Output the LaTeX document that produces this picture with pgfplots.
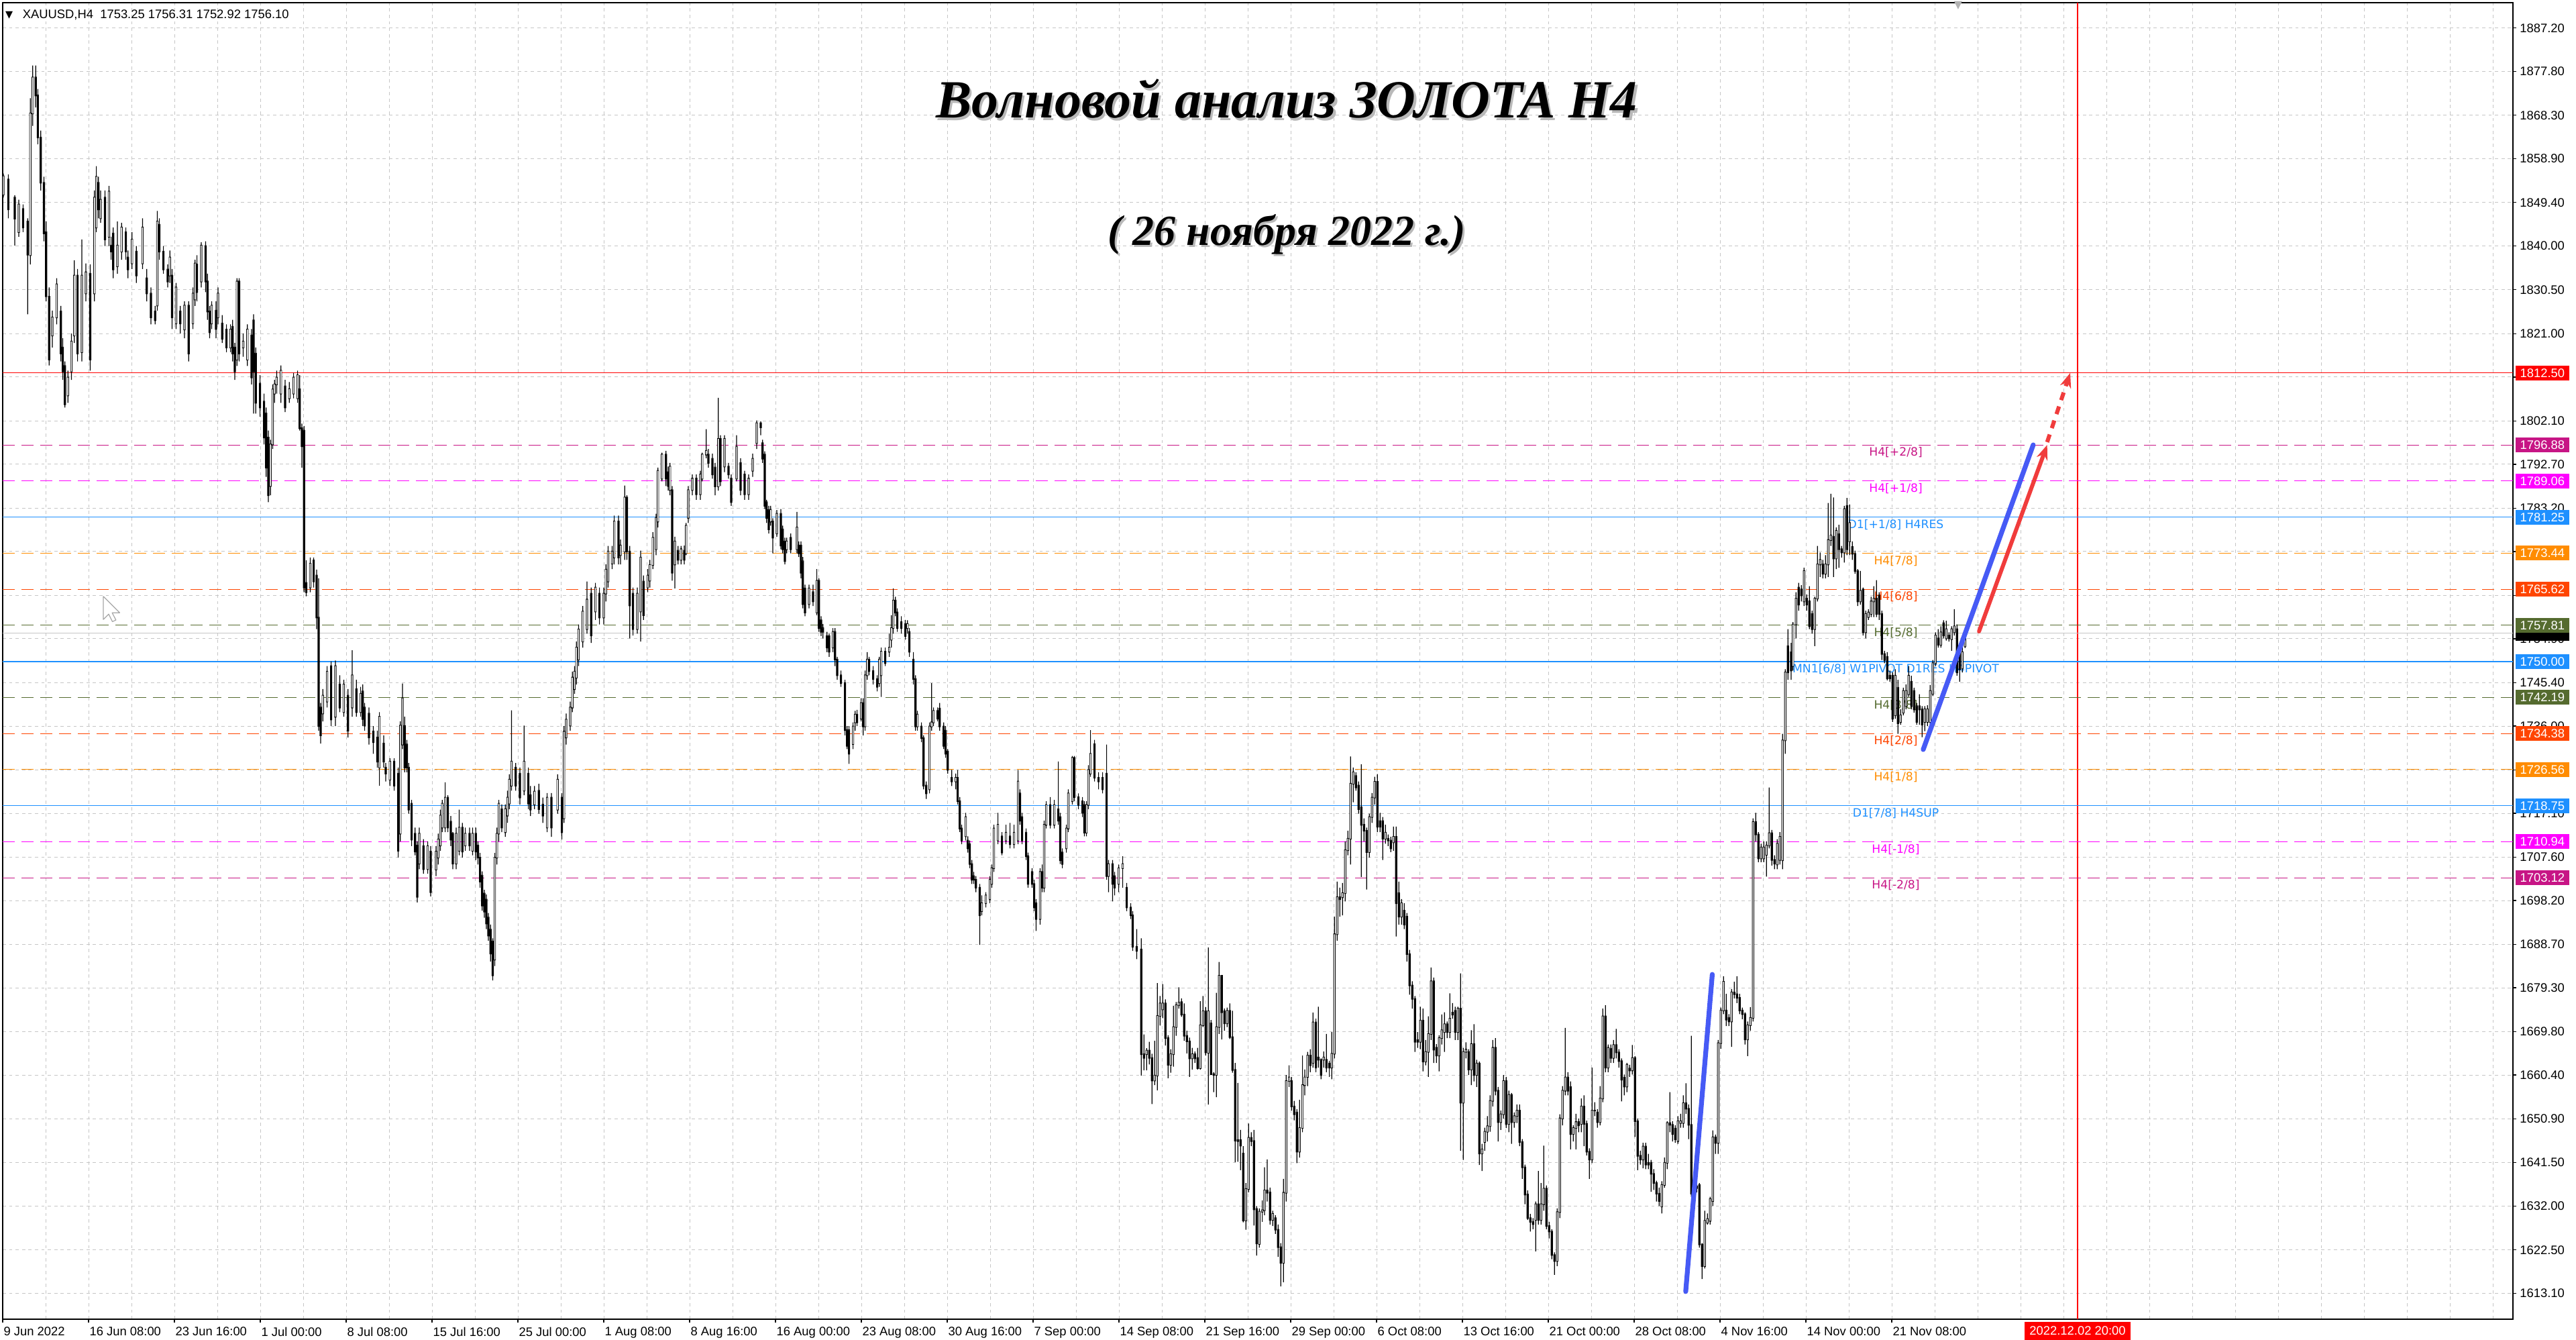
\documentclass[border=0pt]{standalone}
\usepackage{fontspec}
\setmainfont{Liberation Sans}
\newfontfamily\dejavu{DejaVu Sans}
\newfontfamily\titlefont{Liberation Serif}
\usepackage{pgfplots}
\pgfplotsset{compat=1.18}
\usepackage{pgfplotstable}
\usetikzlibrary{arrows.meta}

\definecolor{mvred}{RGB}{199,21,133}
\definecolor{mag}{RGB}{255,0,255}
\definecolor{dblue}{RGB}{30,144,255}
\definecolor{dorange}{RGB}{255,140,0}
\definecolor{ored}{RGB}{255,69,0}
\definecolor{olive}{RGB}{85,107,47}
\definecolor{pblue}{RGB}{70,90,245}
\definecolor{pred}{RGB}{240,60,60}

\newcommand\mt{\fontsize{4.6}{5}\selectfont}
\newcommand\lv{\dejavu\fontsize{4.3}{5}\selectfont}

% x = bar index (4 px per H4 bar), o h l c = prices
\pgfplotstableread{
x o h l c
0.25 1851.1 1855.7 1850.5 1855.1
2.1 1854.4 1855.5 1846.0 1847.9
4.5 1850.5 1851.0 1840.1 1845.9
6.0 1843.0 1850.0 1842.0 1849.0
7.6 1848.0 1849.0 1843.0 1844.0
9.3 1845.3 1846.0 1825.2 1838.1
10.3 1838.0 1872.0 1836.0 1868.7
11.2 1868.7 1879.1 1866.0 1876.5
12.3 1876.5 1879.1 1870.0 1872.6
13.1 1872.6 1874.0 1862.0 1863.5
14.2 1863.5 1865.0 1852.0 1853.7
15.4 1853.7 1855.0 1841.0 1842.7
16.2 1843.0 1845.3 1828.0 1829.1
17.3 1829.0 1831.0 1814.1 1815.4
18.5 1820.6 1826.0 1818.0 1824.5
20.1 1824.5 1833.0 1823.0 1831.7
21.7 1825.8 1827.0 1815.0 1816.7
22.4 1818.0 1820.0 1811.0 1812.8
23.2 1814.0 1815.0 1805.0 1805.7
24.3 1807.6 1813.0 1806.0 1811.5
25.6 1812.8 1821.0 1811.0 1819.3
26.7 1820.6 1836.9 1819.0 1833.6
27.9 1833.6 1835.0 1815.0 1816.7
29.5 1817.0 1841.4 1815.0 1833.6
31.0 1829.7 1836.2 1828.0 1834.3
32.6 1834.0 1836.0 1813.0 1815.4
34.2 1829.7 1852.0 1828.0 1850.5
34.9 1844.0 1857.3 1843.0 1855.0
35.7 1853.7 1855.0 1846.0 1847.9
36.5 1846.0 1852.0 1845.0 1850.0
38.1 1850.5 1852.0 1840.0 1841.4
39.6 1842.0 1853.0 1840.0 1851.8
40.4 1840.1 1842.0 1837.0 1838.8
41.2 1842.7 1844.0 1833.0 1834.9
42.75 1835.6 1845.3 1834.0 1840.1
44.3 1838.8 1845.0 1837.0 1844.0
45.9 1843.0 1844.0 1837.0 1838.8
46.7 1837.5 1839.0 1833.0 1834.9
48.2 1836.2 1843.0 1835.0 1841.4
49.8 1838.8 1840.0 1832.0 1833.6
52.1 1836.2 1846.0 1835.0 1844.0
53.7 1833.0 1835.0 1828.0 1829.7
55.25 1829.7 1831.0 1823.0 1824.5
56.8 1825.8 1827.0 1823.0 1823.9
57.6 1827.1 1847.6 1826.0 1845.3
58.4 1844.6 1846.0 1837.0 1838.8
59.9 1838.8 1840.0 1834.0 1834.9
61.5 1834.9 1836.0 1831.0 1832.3
62.3 1833.6 1839.0 1832.0 1837.5
63.1 1833.6 1835.0 1822.0 1824.5
64.6 1823.2 1832.0 1822.0 1831.0
66.2 1825.8 1827.0 1821.0 1823.2
67.75 1821.9 1828.0 1820.0 1827.1
69.3 1827.1 1828.0 1815.0 1816.7
70.9 1823.2 1831.0 1822.0 1829.7
71.7 1828.4 1837.0 1827.0 1836.2
72.4 1836.0 1838.0 1828.0 1830.0
74.0 1832.3 1840.8 1831.0 1840.1
75.6 1840.0 1841.0 1830.0 1832.3
76.3 1832.3 1834.0 1824.0 1825.8
77.1 1825.8 1827.0 1820.0 1821.3
77.9 1823.2 1828.0 1822.0 1827.1
79.5 1826.0 1828.0 1820.0 1822.0
80.25 1824.5 1831.0 1823.0 1829.7
81.8 1823.2 1825.0 1819.0 1819.9
83.4 1821.9 1823.0 1817.0 1818.0
84.9 1818.0 1823.0 1817.0 1821.9
85.7 1822.5 1824.0 1815.0 1816.7
86.5 1818.0 1819.0 1811.0 1812.8
87.3 1815.4 1833.0 1814.0 1832.3
88.1 1832.3 1833.0 1815.0 1816.7
89.6 1818.0 1821.0 1816.0 1819.3
91.2 1815.4 1823.0 1814.0 1821.9
92.75 1820.6 1822.0 1810.0 1811.5
93.5 1823.9 1825.2 1803.7 1812.8
94.3 1816.7 1818.0 1803.7 1806.0
95.9 1810.2 1812.0 1803.0 1805.0
97.4 1806.3 1808.0 1797.0 1798.5
98.2 1803.7 1805.0 1790.0 1792.0
99.0 1798.5 1800.0 1784.5 1786.0
99.8 1788.0 1798.0 1786.0 1797.0
100.6 1797.0 1810.0 1796.0 1808.9
101.3 1808.0 1811.0 1806.0 1810.0
102.1 1810.0 1813.0 1808.0 1811.5
103.7 1808.0 1814.1 1806.0 1813.0
105.25 1809.6 1811.0 1804.0 1805.0
106.8 1807.0 1810.5 1806.0 1809.0
108.4 1808.0 1812.5 1807.0 1811.5
109.9 1807.0 1813.0 1806.0 1812.0
110.7 1809.0 1812.0 1800.0 1800.5
111.5 1800.5 1801.5 1792.0 1796.6
112.3 1800.0 1801.0 1765.0 1766.0
113.1 1767.0 1771.9 1764.1 1765.0
114.6 1766.0 1772.5 1765.0 1771.2
115.9 1771.9 1772.5 1766.0 1767.3
117.0 1768.6 1769.9 1757.0 1759.5
117.75 1759.5 1768.0 1735.0 1736.0
118.5 1740.0 1741.0 1732.2 1734.0
119.3 1738.7 1744.0 1737.0 1742.6
120.9 1741.3 1749.0 1740.0 1747.8
122.4 1749.0 1750.0 1736.0 1737.4
124.0 1738.0 1750.2 1736.0 1749.0
125.6 1745.0 1747.0 1739.0 1740.0
127.1 1739.0 1746.0 1738.0 1745.0
128.7 1742.6 1744.0 1733.5 1735.0
130.25 1740.0 1752.4 1738.0 1747.0
131.8 1744.0 1746.0 1738.0 1739.0
133.4 1739.0 1744.5 1738.0 1743.0
134.2 1743.5 1745.0 1736.0 1737.5
134.9 1740.0 1741.0 1735.0 1736.1
136.5 1738.7 1740.0 1732.0 1733.5
138.1 1734.8 1736.0 1730.0 1732.5
139.6 1733.5 1735.0 1727.0 1728.3
140.4 1727.0 1739.0 1723.1 1738.0
142.0 1732.2 1734.0 1727.0 1728.3
142.75 1727.0 1728.0 1724.0 1725.7
144.3 1724.4 1729.0 1723.0 1728.3
145.9 1728.3 1729.0 1722.0 1723.1
147.4 1725.7 1727.0 1707.5 1709.0
148.2 1712.7 1737.0 1711.0 1736.1
149.0 1732.0 1745.2 1731.0 1742.0
149.8 1736.0 1738.0 1726.0 1727.0
150.6 1732.0 1733.0 1726.0 1727.0
151.3 1727.0 1728.0 1717.0 1717.9
152.4 1719.2 1720.0 1710.0 1711.4
153.7 1712.7 1714.0 1708.0 1708.8
154.5 1710.1 1711.0 1697.8 1699.0
155.25 1706.2 1714.0 1705.0 1712.7
156.8 1710.0 1711.5 1704.0 1705.0
158.4 1705.0 1711.0 1704.0 1710.0
159.5 1708.8 1710.0 1699.1 1700.0
161.5 1704.9 1710.0 1703.5 1708.8
162.3 1707.5 1712.7 1706.0 1711.4
163.1 1710.1 1717.9 1709.0 1716.6
163.8 1714.0 1720.0 1713.0 1719.2
164.9 1714.0 1723.8 1713.0 1720.5
165.9 1720.5 1721.0 1713.0 1714.0
167.0 1715.3 1716.5 1710.0 1711.4
167.75 1712.7 1713.0 1705.0 1706.2
169.0 1706.2 1714.0 1705.0 1712.7
170.1 1709.0 1717.9 1708.0 1714.0
171.3 1714.0 1715.0 1707.5 1708.8
172.4 1710.1 1714.0 1709.0 1712.7
174.0 1712.7 1714.0 1709.0 1710.1
175.1 1709.0 1714.0 1708.0 1712.7
176.3 1712.7 1714.0 1707.0 1708.8
177.1 1710.1 1711.0 1706.0 1707.5
177.9 1707.5 1708.5 1701.0 1702.3
178.7 1703.6 1704.5 1696.0 1697.1
179.5 1699.7 1700.5 1694.5 1695.8
180.25 1698.4 1699.5 1692.0 1693.2
181.0 1694.5 1695.5 1689.5 1690.6
181.8 1691.9 1693.0 1685.0 1686.7
182.6 1689.3 1690.0 1680.9 1682.0
183.4 1685.4 1708.5 1684.0 1707.5
184.2 1707.5 1714.0 1706.0 1712.7
184.9 1712.7 1720.0 1711.0 1719.2
186.0 1718.0 1719.0 1713.0 1714.0
187.3 1713.0 1719.0 1712.0 1718.0
188.1 1716.6 1722.0 1715.0 1720.5
188.8 1719.2 1725.5 1718.0 1724.4
189.6 1723.1 1739.4 1722.0 1728.3
191.2 1727.0 1728.0 1722.0 1723.1
192.75 1725.7 1727.0 1719.0 1720.5
194.3 1722.0 1736.1 1721.0 1728.3
195.9 1725.7 1727.0 1718.0 1719.2
196.7 1721.0 1723.0 1716.5 1717.9
198.2 1719.0 1723.0 1718.0 1721.8
199.8 1722.0 1723.5 1717.0 1718.0
201.3 1719.0 1720.5 1715.0 1716.6
202.9 1714.0 1721.5 1713.0 1720.5
204.5 1720.5 1721.5 1712.0 1714.0
206.8 1717.9 1725.5 1717.0 1724.4
208.4 1720.5 1721.5 1711.4 1713.0
209.2 1716.0 1736.0 1715.0 1734.8
210.0 1733.5 1738.7 1732.0 1737.4
211.5 1736.1 1741.3 1735.0 1740.0
212.3 1740.0 1747.8 1739.0 1746.5
213.1 1744.0 1749.0 1743.0 1747.8
213.8 1746.5 1754.3 1745.0 1753.0
214.6 1750.4 1758.0 1749.0 1756.9
216.2 1754.3 1762.0 1753.0 1760.8
217.75 1757.0 1767.3 1756.0 1763.4
219.3 1764.7 1766.0 1754.0 1755.6
220.9 1760.8 1767.0 1759.0 1766.0
222.4 1764.7 1766.0 1758.0 1759.5
224.0 1759.5 1766.0 1758.0 1764.7
224.8 1764.7 1771.0 1763.0 1769.9
225.6 1767.3 1775.0 1766.0 1773.8
227.1 1771.2 1775.0 1770.0 1773.8
227.9 1772.5 1781.6 1771.0 1780.3
229.5 1780.3 1781.6 1771.0 1772.5
230.25 1773.0 1776.4 1771.0 1775.1
231.8 1773.8 1788.1 1772.0 1785.5
232.6 1785.5 1786.0 1772.0 1773.8
233.7 1773.8 1775.0 1755.0 1762.1
234.9 1764.7 1766.0 1755.6 1757.0
236.5 1757.0 1766.0 1756.0 1764.7
237.75 1760.8 1774.0 1754.3 1772.5
238.8 1767.3 1768.6 1759.0 1760.0
240.4 1766.0 1770.0 1765.0 1768.6
241.2 1767.5 1772.0 1766.0 1770.9
242.3 1770.9 1778.0 1770.0 1776.8
243.5 1774.3 1782.0 1773.0 1781.1
244.2 1780.3 1792.0 1779.0 1791.3
245.7 1789.6 1795.2 1789.0 1794.8
247.2 1794.8 1795.6 1788.0 1789.6
248.0 1791.0 1792.2 1787.0 1788.0
248.7 1787.1 1793.0 1786.0 1792.2
249.5 1787.1 1788.0 1767.5 1769.2
250.5 1771.0 1777.0 1765.8 1776.0
251.7 1774.0 1775.0 1771.0 1772.0
252.8 1772.0 1775.0 1771.0 1774.3
254.0 1774.0 1775.1 1771.0 1772.0
254.7 1773.4 1780.0 1773.0 1779.4
255.5 1781.1 1788.0 1780.0 1787.1
257.0 1787.1 1790.5 1786.0 1789.6
258.5 1789.6 1790.5 1785.0 1786.2
260.0 1786.2 1791.3 1785.0 1790.5
260.7 1789.6 1795.2 1789.0 1794.8
262.2 1794.8 1800.3 1794.0 1795.6
263.0 1794.8 1796.0 1792.0 1793.0
264.5 1793.9 1795.0 1789.6 1790.5
265.5 1792.0 1793.0 1786.0 1787.9
266.7 1787.9 1807.1 1787.0 1798.2
267.5 1798.2 1799.0 1788.0 1789.0
269.0 1792.2 1799.0 1791.0 1798.2
270.5 1792.2 1793.0 1789.6 1790.5
271.5 1789.6 1790.5 1783.7 1784.5
273.5 1789.6 1799.0 1789.0 1796.5
275.0 1793.0 1794.0 1786.0 1787.1
276.5 1790.5 1791.3 1785.0 1786.2
278.0 1786.2 1790.5 1785.0 1789.6
279.5 1791.3 1795.0 1790.0 1793.9
281.0 1797.3 1802.2 1796.0 1801.6
282.5 1801.6 1802.0 1799.0 1800.7
283.2 1797.3 1798.0 1793.0 1793.9
284.0 1794.8 1795.5 1783.0 1783.7
284.7 1784.5 1785.0 1780.0 1781.1
285.5 1782.8 1783.7 1777.7 1778.6
286.2 1780.3 1783.7 1779.4 1782.8
287.0 1780.3 1781.0 1773.4 1776.8
288.5 1777.7 1782.8 1777.0 1782.0
290.0 1782.0 1783.0 1774.3 1775.1
290.7 1778.6 1779.4 1773.4 1774.3
291.5 1776.0 1776.8 1771.0 1771.7
292.2 1774.3 1776.8 1773.4 1776.0
293.7 1776.8 1777.7 1773.4 1774.3
296.0 1774.3 1782.4 1773.4 1779.0
296.7 1775.1 1776.0 1772.6 1773.4
297.5 1775.1 1776.0 1768.0 1769.2
298.2 1771.7 1772.6 1761.5 1762.4
299.0 1765.8 1766.6 1759.8 1760.6
300.5 1762.4 1766.6 1761.5 1765.8
302.0 1765.0 1766.6 1762.0 1763.0
303.4 1760.6 1770.0 1760.0 1767.5
304.2 1767.5 1768.0 1756.4 1757.2
305.0 1758.9 1759.8 1755.5 1756.4
305.7 1757.2 1758.1 1755.0 1756.4
307.2 1755.5 1756.4 1752.0 1753.0
308.0 1755.5 1756.0 1751.0 1752.1
309.4 1753.0 1757.2 1752.0 1756.4
310.2 1756.4 1757.2 1749.0 1750.4
311.0 1750.4 1751.0 1746.0 1747.0
312.4 1747.0 1748.0 1744.5 1745.3
313.9 1745.3 1746.0 1734.0 1735.1
314.7 1735.1 1736.0 1731.0 1731.7
315.4 1735.1 1736.0 1727.8 1730.0
316.9 1732.1 1736.8 1731.0 1735.9
317.7 1736.8 1739.3 1735.0 1738.5
318.4 1738.5 1739.5 1736.0 1736.8
319.9 1737.6 1742.0 1737.0 1741.0
320.7 1741.0 1742.0 1734.0 1735.9
321.4 1735.9 1748.0 1735.0 1747.0
322.2 1747.0 1752.0 1746.0 1750.4
322.9 1750.4 1751.0 1747.0 1747.9
324.4 1747.9 1749.0 1745.0 1746.2
325.9 1746.2 1747.0 1743.5 1744.5
326.7 1745.3 1751.0 1744.5 1750.4
327.4 1747.0 1753.0 1742.3 1752.1
328.9 1752.1 1753.0 1749.0 1749.6
330.4 1752.1 1756.0 1751.0 1753.0
331.2 1754.7 1760.0 1753.0 1757.2
331.9 1757.2 1765.8 1756.0 1763.2
332.7 1763.2 1764.0 1759.8 1760.6
333.4 1760.6 1761.5 1756.4 1757.2
334.9 1758.5 1759.8 1756.0 1757.2
336.4 1758.1 1759.0 1754.7 1755.5
337.2 1757.2 1758.9 1756.0 1758.1
337.9 1756.4 1757.2 1751.0 1752.1
339.4 1750.4 1752.0 1745.0 1746.2
340.2 1746.2 1747.0 1735.0 1735.9
340.9 1735.9 1739.3 1735.0 1738.5
342.4 1735.9 1736.8 1732.5 1733.4
343.2 1733.4 1734.0 1722.3 1723.1
344.2 1723.1 1724.0 1720.2 1721.4
345.4 1722.3 1736.8 1721.4 1735.9
346.2 1735.9 1745.3 1735.0 1736.8
346.9 1736.8 1740.0 1736.0 1739.3
348.4 1739.3 1740.0 1737.0 1737.6
349.2 1739.8 1741.0 1735.0 1735.9
350.7 1735.9 1736.8 1731.0 1731.7
351.4 1735.0 1736.0 1729.1 1730.0
352.2 1730.5 1731.0 1725.7 1726.5
353.7 1724.8 1726.5 1723.0 1724.0
355.2 1724.0 1725.7 1722.3 1724.8
355.9 1724.8 1726.5 1719.0 1719.7
356.7 1719.7 1720.6 1713.0 1713.8
357.4 1713.8 1714.6 1710.4 1711.2
358.9 1712.1 1717.2 1711.2 1716.3
359.7 1711.2 1712.1 1708.6 1709.5
360.4 1710.4 1711.2 1705.2 1706.1
361.2 1706.1 1707.0 1701.8 1702.7
361.9 1703.5 1704.4 1701.8 1702.7
362.7 1702.7 1703.5 1700.0 1701.0
364.1 1701.0 1701.8 1688.6 1695.0
364.9 1695.9 1699.3 1695.0 1697.6
366.4 1697.6 1700.0 1696.7 1699.3
367.9 1698.5 1703.5 1697.6 1702.7
368.6 1701.8 1706.0 1701.0 1705.2
369.4 1705.2 1714.6 1704.4 1713.8
370.9 1711.2 1717.2 1710.4 1714.6
372.4 1712.1 1713.0 1708.0 1708.6
373.9 1711.2 1714.6 1710.4 1712.9
375.4 1712.1 1715.0 1709.5 1710.4
376.9 1710.4 1714.6 1709.5 1712.9
378.4 1711.2 1726.5 1710.4 1724.0
379.1 1721.4 1722.3 1714.6 1715.5
379.9 1716.3 1717.2 1710.4 1711.2
381.4 1712.9 1713.8 1707.0 1707.8
382.1 1707.8 1708.6 1701.0 1701.8
383.6 1704.4 1705.2 1701.0 1701.8
384.4 1701.8 1702.7 1695.9 1696.7
385.1 1697.6 1698.5 1691.6 1694.2
386.6 1694.2 1705.2 1693.0 1704.4
387.4 1704.4 1706.0 1700.0 1701.0
388.1 1701.0 1715.5 1700.0 1714.6
388.9 1714.6 1719.7 1713.8 1718.9
390.4 1718.9 1720.6 1713.8 1714.6
391.9 1714.6 1720.0 1713.8 1718.9
393.4 1718.0 1728.3 1714.6 1715.5
394.1 1716.3 1717.2 1706.1 1706.9
394.9 1708.6 1709.5 1705.2 1706.1
396.4 1709.5 1714.6 1708.6 1713.8
397.1 1713.8 1722.3 1713.0 1721.4
398.6 1719.7 1729.5 1719.0 1729.1
399.4 1729.1 1729.5 1719.7 1720.6
400.9 1720.6 1721.4 1718.0 1718.9
402.4 1719.7 1720.6 1716.3 1717.2
403.1 1718.9 1719.7 1712.1 1712.9
403.9 1712.9 1719.7 1712.1 1718.9
404.6 1718.9 1727.5 1718.0 1726.5
405.4 1725.7 1735.1 1725.0 1730.0
406.9 1732.1 1733.0 1724.0 1724.8
408.4 1724.8 1726.0 1722.3 1724.0
409.9 1724.8 1726.0 1721.4 1722.3
411.4 1725.7 1732.0 1702.7 1703.5
412.1 1703.5 1707.0 1700.0 1706.1
413.6 1706.1 1707.0 1698.0 1701.8
414.4 1703.5 1704.4 1699.3 1701.0
415.9 1701.8 1706.0 1700.0 1705.2
417.4 1705.2 1707.8 1701.0 1706.1
418.9 1701.0 1702.0 1695.9 1696.7
420.4 1696.7 1697.6 1694.2 1695.0
421.1 1695.0 1695.9 1687.3 1688.2
422.6 1688.2 1692.0 1685.5 1687.3
424.3 1687.6 1690.0 1660.3 1664.9
425.3 1664.9 1669.2 1661.4 1664.1
426.3 1664.9 1666.2 1661.4 1665.7
427.3 1665.7 1667.6 1662.7 1664.1
428.3 1664.1 1665.0 1654.1 1659.2
429.3 1659.2 1667.8 1658.2 1660.3
430.3 1660.3 1680.3 1657.1 1673.2
431.3 1673.2 1677.5 1671.1 1675.9
432.3 1674.6 1680.1 1672.7 1675.9
433.3 1675.9 1676.8 1666.8 1668.4
434.3 1668.4 1669.0 1659.7 1662.6
435.3 1662.6 1666.0 1660.9 1664.9
436.3 1664.9 1675.4 1662.2 1670.8
437.3 1670.8 1676.2 1668.9 1675.5
438.3 1675.5 1679.4 1674.8 1676.1
439.3 1676.2 1677.0 1673.0 1673.5
440.3 1673.5 1675.9 1667.8 1668.9
441.3 1668.9 1670.0 1665.1 1667.7
442.3 1667.7 1668.5 1660.0 1664.0
443.3 1664.0 1666.3 1661.6 1664.9
444.3 1664.9 1665.5 1663.0 1664.0
445.3 1664.1 1666.3 1661.6 1661.9
446.3 1661.9 1676.4 1661.6 1671.2
447.3 1671.2 1677.5 1670.8 1674.2
448.3 1674.2 1675.1 1664.6 1665.3
449.3 1665.2 1688.0 1654.0 1674.2
450.3 1671.6 1672.3 1660.4 1660.6
451.3 1660.6 1661.0 1656.7 1660.4
452.3 1660.4 1678.2 1655.6 1670.8
453.3 1670.8 1684.9 1669.3 1681.9
454.3 1681.9 1682.0 1668.1 1674.0
455.3 1674.2 1674.8 1670.0 1671.6
456.3 1671.6 1675.0 1670.8 1674.3
457.3 1674.3 1675.9 1668.2 1668.6
458.3 1668.6 1674.3 1660.9 1661.5
459.3 1661.5 1663.0 1641.5 1646.2
460.3 1646.3 1658.7 1641.6 1646.1
461.3 1646.3 1648.5 1639.8 1645.1
462.3 1643.4 1645.0 1628.5 1628.9
463.3 1628.9 1637.0 1626.9 1635.7
464.3 1635.7 1649.9 1635.0 1646.8
465.3 1646.8 1648.0 1645.0 1646.1
466.3 1646.1 1648.5 1627.8 1631.3
467.3 1631.4 1632.0 1621.3 1623.9
468.3 1623.8 1631.5 1623.0 1630.8
469.4 1630.8 1633.2 1628.6 1631.1
470.25 1631.1 1640.4 1630.0 1635.4
471.25 1635.4 1642.1 1633.0 1634.9
472.3 1635.0 1636.0 1628.0 1629.0
473.3 1629.0 1631.0 1627.7 1630.3
474.3 1629.4 1630.0 1626.0 1626.9
475.3 1626.9 1628.0 1621.0 1623.1
476.3 1623.1 1624.0 1614.6 1619.7
477.3 1619.7 1637.9 1615.5 1634.9
478.3 1634.9 1660.4 1633.0 1659.1
479.4 1659.1 1662.5 1657.8 1659.9
480.3 1659.1 1660.0 1652.7 1653.6
481.3 1653.6 1654.8 1650.6 1651.9
482.3 1652.3 1653.0 1641.3 1643.8
483.3 1643.8 1655.0 1642.5 1648.9
484.4 1648.9 1664.6 1648.0 1658.2
485.25 1658.2 1661.6 1656.0 1659.9
486.3 1660.0 1665.4 1658.0 1664.6
487.3 1664.6 1666.0 1661.0 1662.5
488.3 1663.0 1673.9 1662.0 1671.8
489.4 1671.8 1672.6 1661.0 1662.0
490.3 1664.2 1675.2 1662.0 1663.7
491.3 1663.7 1664.0 1659.5 1660.4
492.3 1663.7 1665.5 1662.0 1664.2
493.3 1663.7 1669.3 1661.0 1662.0
494.4 1662.9 1663.5 1660.0 1662.0
495.3 1662.0 1669.7 1659.5 1665.0
496.3 1665.0 1694.7 1664.0 1690.9
497.3 1690.9 1702.3 1689.5 1698.9
498.3 1698.9 1701.0 1694.7 1698.5
499.3 1698.9 1702.0 1695.0 1699.8
500.3 1699.8 1711.0 1698.0 1709.1
501.3 1709.1 1713.3 1708.0 1711.6
502.3 1711.6 1729.4 1706.0 1723.5
503.3 1723.5 1727.0 1719.5 1726.0
504.3 1725.2 1726.0 1722.0 1722.7
505.3 1723.1 1724.0 1717.0 1718.0
506.3 1718.4 1727.7 1703.3 1714.6
507.3 1714.6 1716.0 1711.0 1713.3
508.3 1713.3 1714.0 1700.6 1708.7
509.3 1708.7 1717.0 1707.5 1716.3
510.3 1716.3 1721.5 1715.0 1720.5
511.3 1720.5 1725.0 1719.0 1723.9
512.3 1723.9 1725.6 1713.0 1714.2
513.3 1715.4 1717.2 1713.0 1714.2
514.3 1715.4 1716.3 1707.0 1711.6
515.3 1711.6 1714.6 1710.5 1712.9
516.3 1711.6 1712.5 1710.0 1711.2
517.3 1711.2 1712.0 1708.7 1709.5
518.3 1710.8 1714.2 1709.0 1712.0
519.3 1712.0 1714.2 1690.4 1697.6
520.3 1699.8 1702.3 1693.0 1694.7
521.3 1694.7 1698.5 1693.0 1697.6
522.3 1696.0 1697.6 1692.0 1693.0
523.3 1694.7 1695.5 1685.0 1686.6
524.3 1686.6 1687.5 1677.8 1679.8
525.3 1679.8 1680.7 1674.8 1676.9
526.3 1676.9 1677.5 1665.4 1667.6
527.3 1668.0 1669.7 1666.3 1667.6
528.3 1667.6 1675.2 1666.0 1672.2
529.3 1672.2 1674.8 1661.2 1663.3
530.3 1663.3 1668.0 1662.5 1665.4
531.3 1665.4 1673.1 1660.0 1669.3
532.3 1669.3 1683.7 1668.0 1680.7
533.3 1680.7 1681.5 1663.0 1665.9
534.3 1666.3 1667.1 1663.0 1664.6
535.3 1664.6 1669.0 1661.2 1668.4
536.3 1668.4 1673.5 1667.0 1670.1
537.3 1669.7 1674.0 1665.4 1671.4
538.3 1671.4 1672.0 1668.4 1669.7
539.3 1669.7 1678.1 1668.4 1672.6
540.3 1673.9 1676.0 1672.6 1673.5
541.3 1674.3 1675.2 1668.0 1669.7
542.3 1669.7 1675.2 1668.0 1674.8
543.3 1674.8 1682.4 1644.0 1654.4
544.3 1654.4 1666.3 1642.0 1665.4
545.3 1665.4 1667.5 1664.0 1665.9
546.3 1665.4 1666.0 1660.4 1661.6
547.3 1661.6 1670.1 1658.2 1667.1
548.3 1667.1 1671.4 1659.0 1660.4
549.3 1660.4 1663.7 1657.8 1662.9
550.3 1662.9 1663.3 1640.9 1643.4
551.3 1643.4 1645.5 1639.6 1644.3
552.3 1645.9 1649.0 1644.0 1648.1
553.3 1648.1 1651.5 1646.0 1649.3
554.3 1649.3 1656.0 1648.1 1654.8
555.3 1654.8 1668.0 1653.6 1666.3
556.3 1666.3 1668.4 1656.0 1657.0
557.3 1657.0 1657.8 1646.0 1650.2
558.3 1650.2 1652.7 1648.5 1651.9
559.3 1651.9 1660.4 1651.0 1659.1
560.3 1659.1 1660.0 1648.9 1649.8
561.3 1649.8 1657.0 1648.0 1656.1
562.3 1656.1 1656.5 1645.5 1650.2
563.3 1650.2 1652.3 1649.0 1651.5
564.3 1651.5 1654.0 1650.0 1652.7
565.3 1652.7 1654.0 1645.0 1645.9
566.3 1645.9 1646.5 1637.9 1640.4
567.3 1640.4 1641.0 1632.4 1634.5
568.3 1634.5 1635.4 1629.0 1629.4
569.3 1629.4 1630.3 1626.5 1628.6
570.3 1628.6 1629.4 1627.0 1628.1
571.3 1629.0 1633.0 1622.2 1632.4
572.3 1632.4 1639.6 1628.0 1629.0
573.3 1629.0 1637.0 1628.0 1632.4
574.3 1632.4 1645.1 1631.0 1635.8
575.3 1635.8 1636.5 1627.0 1627.7
576.3 1627.7 1628.6 1625.0 1626.5
577.3 1626.5 1627.0 1620.5 1621.4
578.3 1621.4 1622.0 1617.1 1620.1
579.3 1620.1 1631.5 1619.0 1630.7
580.3 1630.7 1651.9 1629.4 1651.0
581.3 1651.0 1658.0 1649.5 1657.0
582.3 1657.0 1670.6 1656.0 1659.9
583.3 1659.9 1661.0 1656.0 1657.0
584.3 1657.8 1659.0 1644.3 1647.6
585.3 1647.6 1649.5 1646.0 1648.9
586.3 1648.9 1652.0 1644.3 1650.2
587.3 1650.2 1651.0 1648.0 1649.5
588.3 1649.8 1655.3 1648.0 1653.6
589.3 1653.6 1656.0 1645.0 1649.8
590.3 1649.8 1650.5 1643.0 1643.8
591.3 1643.8 1644.5 1637.9 1642.1
592.3 1642.1 1662.0 1641.3 1652.7
593.3 1652.7 1654.5 1651.5 1652.7
594.3 1652.3 1653.0 1649.0 1650.2
595.3 1650.2 1658.0 1649.5 1655.3
596.3 1655.3 1674.8 1654.5 1673.1
597.3 1673.1 1675.5 1661.0 1662.0
598.3 1662.0 1667.0 1661.0 1666.3
599.3 1666.1 1667.0 1663.0 1664.1
600.3 1664.1 1668.0 1663.0 1666.9
601.3 1666.9 1670.4 1664.0 1665.3
602.3 1665.3 1666.0 1662.0 1663.4
603.3 1663.4 1664.0 1654.7 1659.4
604.3 1659.8 1660.5 1656.0 1657.9
605.3 1657.9 1663.0 1656.7 1662.6
606.3 1661.8 1662.6 1660.0 1661.4
607.3 1661.4 1666.9 1660.5 1664.1
608.3 1664.1 1664.5 1647.0 1650.4
609.3 1650.4 1651.0 1639.8 1642.9
610.3 1642.9 1644.0 1641.0 1642.1
611.3 1642.1 1645.7 1640.2 1644.9
612.3 1644.9 1645.7 1640.0 1641.0
613.3 1641.4 1643.3 1640.0 1641.0
614.3 1641.4 1642.0 1635.1 1639.0
615.3 1639.0 1640.0 1635.5 1637.0
616.3 1637.0 1637.5 1633.0 1634.7
617.3 1634.7 1636.0 1632.0 1633.1
618.3 1631.9 1637.4 1630.4 1636.6
619.3 1636.6 1642.5 1636.0 1641.4
620.3 1641.4 1650.4 1640.0 1650.0
621.3 1650.0 1656.7 1648.0 1649.6
622.3 1649.6 1650.4 1646.0 1647.6
623.3 1648.8 1649.5 1645.7 1646.5
624.3 1646.1 1651.5 1645.5 1650.4
625.3 1650.0 1652.0 1649.0 1650.4
626.3 1650.0 1656.0 1649.0 1654.3
627.3 1654.3 1658.6 1652.0 1653.1
628.3 1653.1 1654.0 1646.5 1649.6
629.3 1649.6 1668.9 1634.0 1634.7
630.3 1635.9 1638.5 1634.0 1637.4
631.3 1636.3 1637.0 1635.0 1635.9
632.3 1636.6 1637.0 1623.0 1623.7
633.3 1623.7 1624.0 1616.2 1619.0
634.3 1619.0 1631.0 1618.5 1628.8
635.3 1628.4 1630.4 1628.0 1629.2
636.3 1628.8 1634.0 1628.0 1633.5
637.3 1633.1 1648.4 1632.0 1646.9
638.3 1646.9 1647.5 1643.3 1645.7
639.3 1645.7 1668.0 1643.3 1667.3
640.3 1667.3 1675.0 1666.1 1674.4
641.3 1674.4 1681.8 1673.6 1680.6
642.3 1674.4 1678.0 1671.0 1672.4
643.3 1672.8 1673.6 1671.0 1672.0
644.3 1672.0 1679.0 1666.5 1678.3
645.3 1678.3 1680.6 1677.0 1677.9
646.3 1677.9 1681.8 1676.0 1677.1
647.3 1677.1 1678.0 1673.6 1674.4
648.3 1674.4 1675.0 1672.5 1673.6
649.3 1673.6 1674.0 1667.0 1668.1
650.3 1668.1 1672.0 1664.5 1671.2
651.3 1671.2 1675.1 1670.0 1672.8
652.3 1672.8 1716.0 1672.0 1715.2
653.3 1715.2 1717.2 1711.0 1712.5
654.3 1712.5 1713.0 1706.5 1707.3
655.3 1707.3 1710.5 1706.5 1709.7
656.3 1707.3 1711.0 1706.5 1709.7
657.3 1708.1 1711.0 1703.4 1710.1
658.3 1710.1 1722.7 1709.5 1712.8
659.3 1712.8 1713.5 1705.8 1707.0
660.3 1707.0 1708.0 1705.0 1706.2
661.3 1706.0 1711.5 1705.0 1710.5
662.3 1707.0 1713.0 1706.0 1712.0
663.3 1706.9 1734.3 1705.0 1732.9
664.3 1732.9 1748.3 1730.0 1747.6
665.3 1753.3 1757.0 1746.0 1747.6
666.5 1752.0 1754.0 1746.0 1748.0
667.2 1749.0 1758.5 1748.0 1758.0
668.3 1758.0 1765.0 1755.0 1763.6
669.3 1766.0 1767.0 1761.0 1762.3
670.3 1765.6 1766.5 1763.0 1764.3
671.3 1763.0 1770.3 1762.0 1769.6
672.3 1763.6 1764.5 1761.0 1762.3
673.3 1763.0 1766.3 1757.0 1757.6
674.3 1760.3 1761.0 1756.0 1757.0
675.3 1757.0 1764.0 1753.3 1763.6
676.3 1763.6 1775.0 1763.0 1771.0
677.3 1771.0 1773.6 1768.3 1772.0
678.3 1771.0 1772.0 1768.0 1769.0
679.3 1769.0 1773.0 1768.0 1771.0
680.3 1771.0 1784.3 1768.3 1776.3
681.3 1776.3 1786.3 1775.0 1777.3
682.3 1777.0 1785.5 1768.3 1772.3
683.3 1772.3 1779.0 1770.0 1778.3
684.3 1777.6 1779.6 1770.3 1774.3
685.3 1774.3 1775.0 1772.5 1773.6
686.3 1773.6 1783.7 1771.4 1783.0
687.3 1783.7 1785.4 1773.0 1774.3
688.3 1776.0 1784.0 1773.0 1780.0
689.3 1774.8 1776.0 1772.0 1773.3
690.3 1773.3 1774.0 1769.0 1769.6
691.3 1769.6 1770.0 1762.0 1763.0
692.3 1763.0 1769.6 1762.3 1765.3
693.3 1765.6 1766.0 1755.6 1756.3
694.3 1756.3 1761.0 1755.0 1760.3
695.3 1759.6 1761.3 1759.0 1760.6
696.3 1760.3 1764.0 1759.6 1763.0
697.3 1763.0 1766.3 1759.6 1763.6
698.3 1763.6 1767.6 1759.6 1760.3
699.3 1764.3 1765.0 1759.0 1760.3
700.3 1760.3 1761.0 1750.3 1751.6
701.3 1751.6 1752.3 1749.6 1750.3
702.3 1751.0 1752.0 1745.9 1746.3
703.3 1746.9 1748.0 1745.6 1746.3
704.3 1746.9 1747.6 1736.9 1737.6
705.3 1738.3 1748.3 1737.6 1746.9
706.3 1744.3 1746.0 1734.3 1736.6
707.3 1736.9 1739.6 1736.3 1738.3
708.3 1738.9 1744.3 1738.3 1743.6
709.3 1740.3 1745.0 1739.6 1743.6
710.3 1742.9 1749.0 1742.3 1746.9
711.3 1745.6 1746.9 1739.6 1740.3
712.3 1743.6 1744.3 1738.9 1739.6
713.3 1740.3 1741.0 1736.3 1736.9
714.3 1740.3 1742.9 1736.3 1739.6
715.3 1739.6 1740.3 1733.6 1736.3
716.3 1736.9 1740.3 1734.9 1739.6
717.3 1736.9 1740.5 1736.0 1739.6
718.3 1736.9 1744.9 1736.3 1743.6
719.3 1743.0 1750.3 1742.5 1749.6
720.3 1749.6 1756.3 1749.0 1755.6
721.3 1755.0 1757.0 1753.0 1753.6
722.3 1753.6 1757.6 1753.0 1756.3
723.3 1758.3 1758.9 1755.0 1755.6
724.3 1755.0 1758.8 1754.5 1757.0
725.3 1755.6 1756.3 1754.3 1755.0
726.3 1754.8 1757.6 1752.3 1757.0
727.3 1756.3 1761.3 1755.6 1757.6
728.3 1757.0 1758.0 1746.9 1747.6
729.3 1752.3 1753.0 1745.6 1748.3
730.3 1748.5 1753.3 1747.6 1752.0
731.3 1753.25 1756.31 1752.92 1756.10
}\candles

\pgfplotsset{
  chart/.style={at={(1pt,7.5pt)}, anchor=south west, width=935.5pt, height=490.5pt,
    scale only axis, xmin=0, xmax=935.5, ymin=1607.5, ymax=1892.7},
  layer/.style={chart, hide axis, stack plots=y},
  bar/.style={ybar, bar shift=0pt, draw=none, bar width=#1},
}
\tikzset{
  lvl/.style={line width=0.25pt, dash pattern=on 4.5pt off 2.5pt},
  lab/.style={anchor=north, inner sep=0pt, yshift=-0.7pt, font=\lv},
  box/.style={anchor=west, xshift=0.75pt, inner sep=0pt, minimum width=20pt, minimum height=5.5pt, text=white, font=\mt},
}

\begin{document}
\begin{tikzpicture}
\path[use as bounding box] (0,0) rectangle (960pt,499pt);
\begin{axis}[chart,
  axis line style={black, line width=0.4pt},
  xtick={0,32,...,704},
  xticklabels={9 Jun 2022,16 Jun 08:00,23 Jun 16:00,1 Jul 00:00,8 Jul 08:00,15 Jul 16:00,25 Jul 00:00,1 Aug 08:00,8 Aug 16:00,16 Aug 00:00,23 Aug 08:00,30 Aug 16:00,7 Sep 00:00,14 Sep 08:00,21 Sep 16:00,29 Sep 00:00,6 Oct 08:00,13 Oct 16:00,21 Oct 00:00,28 Oct 08:00,4 Nov 16:00,14 Nov 00:00,21 Nov 08:00},
  minor xtick={0,16,...,928},
  xmajorgrids=false, xminorgrids=true,
  ytick={1887.2,1877.8,1868.3,1858.9,1849.4,1840.0,1830.5,1821.0,1811.6,1802.1,1792.7,1783.2,1773.8,1764.3,1754.9,1745.4,1736.0,1726.5,1717.1,1707.6,1698.2,1688.7,1679.3,1669.8,1660.4,1650.9,1641.5,1632.0,1622.5,1613.1},
  yticklabels={1887.20,1877.80,1868.30,1858.90,1849.40,1840.00,1830.50,1821.00,{},1802.10,1792.70,1783.20,{},{},1754.90,1745.40,1736.00,{},1717.10,1707.60,1698.20,1688.70,1679.30,1669.80,1660.40,1650.90,1641.50,1632.00,1622.50,1613.10},
  ymajorgrids=true,
  major grid style={gray!45, line width=0.25pt, dash pattern=on 1.2pt off 1.2pt},
  minor grid style={gray!45, line width=0.25pt, dash pattern=on 1.2pt off 1.2pt},
  xtick pos=left, ytick pos=right, yticklabel pos=right,
  tick align=outside, major tick length=1.2pt, minor tick length=0pt,
  tick style={black, line width=0.3pt},
  xticklabel style={anchor=north west, inner sep=0pt, yshift=-1.6pt, xshift=0.2pt, font=\mt},
  yticklabel style={anchor=west, inner sep=0pt, xshift=1.2pt, font=\mt},
]
\addplot[red, line width=0.3pt] coordinates {(0,1812.5) (935.5,1812.5)};
\addplot[red, line width=0.3pt] coordinates {(773.25,1607.5) (773.25,1892.7)};
\addplot[lvl, mvred] coordinates {(0,1796.88) (935.5,1796.88)};
\addplot[lvl, mag] coordinates {(0,1789.06) (935.5,1789.06)};
\addplot[dblue, line width=0.25pt] coordinates {(0,1781.25) (935.5,1781.25)};
\addplot[lvl, dorange] coordinates {(0,1773.44) (935.5,1773.44)};
\addplot[lvl, ored] coordinates {(0,1765.62) (935.5,1765.62)};
\addplot[lvl, olive] coordinates {(0,1757.81) (935.5,1757.81)};
\addplot[gray!45, line width=0.25pt] coordinates {(0,1756.1) (935.5,1756.1)};
\addplot[dblue, line width=0.5pt] coordinates {(0,1750) (935.5,1750)};
\addplot[lvl, olive] coordinates {(0,1742.19) (935.5,1742.19)};
\addplot[lvl, ored] coordinates {(0,1734.38) (935.5,1734.38)};
\addplot[lvl, dorange] coordinates {(0,1726.56) (935.5,1726.56)};
\addplot[dblue, line width=0.25pt] coordinates {(0,1718.75) (935.5,1718.75)};
\addplot[lvl, mag] coordinates {(0,1710.94) (935.5,1710.94)};
\addplot[lvl, mvred] coordinates {(0,1703.12) (935.5,1703.12)};
\node[lab, text=mvred] at (axis cs:705.5,1796.88) {H4[+2/8]};
\node[lab, text=mag] at (axis cs:705.5,1789.06) {H4[+1/8]};
\node[lab, text=dblue] at (axis cs:705.5,1781.25) {D1[+1/8] H4RES};
\node[lab, text=dorange] at (axis cs:705.5,1773.44) {H4[7/8]};
\node[lab, text=ored] at (axis cs:705.5,1765.62) {H4[6/8]};
\node[lab, text=olive] at (axis cs:705.5,1757.81) {H4[5/8]};
\node[lab, text=dblue] at (axis cs:705.5,1750) {MN1[6/8] W1PIVOT D1RES H4PIVOT};
\node[lab, text=olive] at (axis cs:705.5,1742.19) {H4[3/8]};
\node[lab, text=ored] at (axis cs:705.5,1734.38) {H4[2/8]};
\node[lab, text=dorange] at (axis cs:705.5,1726.56) {H4[1/8]};
\node[lab, text=dblue] at (axis cs:705.5,1718.75) {D1[7/8] H4SUP};
\node[lab, text=mag] at (axis cs:705.5,1710.94) {H4[-1/8]};
\node[lab, text=mvred] at (axis cs:705.5,1703.12) {H4[-2/8]};
\end{axis}
% wicks: invisible base up to the low, then the low-high range stacked on it
\begin{axis}[layer]
\addplot[bar=0.3pt, fill=none] table[x=x, y=l] {\candles};
\addplot[bar=0.3pt, fill=black] table[x=x, y expr={\thisrow{h}-\thisrow{l}}] {\candles};
\end{axis}
% bodies: black block for every candle
\begin{axis}[layer]
\addplot[bar=0.8pt, fill=none] table[x=x, y expr={min(\thisrow{o},\thisrow{c})-0.15}] {\candles};
\addplot[bar=0.8pt, fill=black] table[x=x, y expr={abs(\thisrow{o}-\thisrow{c})+0.3}] {\candles};
\end{axis}
% rising candles: white inside
\begin{axis}[layer]
\addplot[bar=0.36pt, fill=none] table[x=x, y=o] {\candles};
\addplot[bar=0.36pt, fill=white] table[x=x, y expr={max(\thisrow{c}-\thisrow{o},0)}] {\candles};
\end{axis}
\begin{axis}[chart, hide axis]
\addplot[pblue, line width=1.8pt, line cap=round] coordinates {(627.2,1613.5) (637.1,1682.2)};
\addplot[pblue, line width=1.8pt, line cap=round] coordinates {(715.7,1730.9) (756.7,1796.9)};
\addplot[pred, line width=1.5pt, line cap=round, -{Stealth[length=5.5pt,width=4.2pt]}] coordinates {(736.5,1756.5) (761.9,1796.9)};
\addplot[pred, line width=1.5pt, dash pattern=on 3pt off 2.5pt, -{Stealth[length=5.5pt,width=4.2pt]}] coordinates {(761.9,1797.5) (770.5,1812.5)};
\coordinate (b1) at (axis cs:935.5,1812.5);
\coordinate (b2) at (axis cs:935.5,1796.88);
\coordinate (b3) at (axis cs:935.5,1789.06);
\coordinate (b4) at (axis cs:935.5,1781.25);
\coordinate (b5) at (axis cs:935.5,1773.44);
\coordinate (b6) at (axis cs:935.5,1765.62);
\coordinate (b7) at (axis cs:935.5,1757.81);
\coordinate (b8) at (axis cs:935.5,1756.1);
\coordinate (b9) at (axis cs:935.5,1750);
\coordinate (b10) at (axis cs:935.5,1742.19);
\coordinate (b11) at (axis cs:935.5,1734.38);
\coordinate (b12) at (axis cs:935.5,1726.56);
\coordinate (b13) at (axis cs:935.5,1718.75);
\coordinate (b14) at (axis cs:935.5,1710.94);
\coordinate (b15) at (axis cs:935.5,1703.12);
\coordinate (bx) at (axis cs:773.25,1607.5);
\end{axis}
\node[box, fill=red] at (b1) {1812.50};
\node[box, fill=mvred] at (b2) {1796.88};
\node[box, fill=mag] at (b3) {1789.06};
\node[box, fill=dblue] at (b4) {1781.25};
\node[box, fill=dorange] at (b5) {1773.44};
\node[box, fill=ored] at (b6) {1765.62};
\node[box, fill=black, minimum height=4.6pt, yshift=-0.4pt] at (b8) {};
\node[box, fill=olive] at (b7) {1757.81};
\node[box, fill=dblue] at (b9) {1750.00};
\node[box, fill=olive] at (b10) {1742.19};
\node[box, fill=ored] at (b11) {1734.38};
\node[box, fill=dorange] at (b12) {1726.56};
\node[box, fill=dblue] at (b13) {1718.75};
\node[box, fill=mag] at (b14) {1710.94};
\node[box, fill=mvred] at (b15) {1703.12};
\node[anchor=north, yshift=-0.9pt, fill=red, text=white, inner sep=0pt, minimum width=39.5pt, minimum height=6.6pt, font=\mt] at (bx) {2022.12.02 20:00};
\node[anchor=base west, inner sep=0pt, font=\mt] at (8.25pt,492.1pt) {XAUUSD,H4\ \ 1753.25 1756.31 1752.92 1756.10};
\node[anchor=base, inner sep=0pt, font=\dejavu\fontsize{3.6}{4}\selectfont] at (3.4pt,492.3pt) {▼};
\node[anchor=north, inner sep=0pt, text=gray!60, font=\dejavu\fontsize{4}{4}\selectfont] at (729.75pt,498.6pt) {▼};
% mouse pointer left on the chart
\draw[gray!70, fill=white, line width=0.3pt, line join=round, shift={(38.5pt,276.8pt)}]
  (0,0) -- (0,-8.6pt) -- (2pt,-6.6pt) -- (3.4pt,-9.4pt) -- (4.7pt,-8.8pt) -- (3.3pt,-6.1pt) -- (6.1pt,-6.1pt) -- cycle;
\node[anchor=base, inner sep=0pt, text=gray!55, font=\titlefont\bfseries\itshape\fontsize{20}{24}\selectfont] at (480.3pt,454.2pt) {Волновой анализ ЗОЛОТА H4};
\node[anchor=base, inner sep=0pt, font=\titlefont\bfseries\itshape\fontsize{20}{24}\selectfont] at (479.5pt,455pt) {Волновой анализ ЗОЛОТА H4};
\node[anchor=base, inner sep=0pt, text=gray!55, font=\titlefont\bfseries\itshape\fontsize{16}{19}\selectfont] at (480.3pt,406.9pt) {( 26 ноября 2022 г.)};
\node[anchor=base, inner sep=0pt, font=\titlefont\bfseries\itshape\fontsize{16}{19}\selectfont] at (479.5pt,407.7pt) {( 26 ноября 2022 г.)};
\end{tikzpicture}
\end{document}
